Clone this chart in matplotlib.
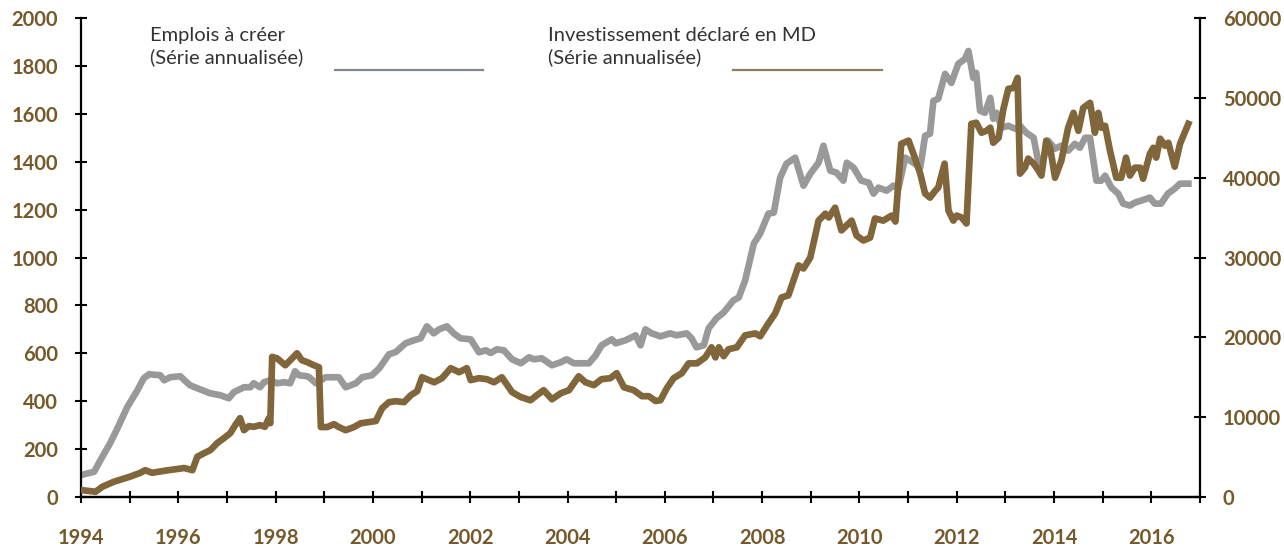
import matplotlib
matplotlib.use("Agg")
import matplotlib.pyplot as plt
from matplotlib.lines import Line2D

# ---- data ----
# Emplois à créer (série annualisée) - right axis
emplois_t = [1994.00, 1994.27, 1994.40, 1994.60, 1994.75, 1994.95, 1995.16, 1995.29, 1995.40, 1995.63,
             1995.71, 1995.83, 1996.04, 1996.24, 1996.39, 1996.65, 1996.86, 1997.04, 1997.14, 1997.35,
             1997.48, 1997.55, 1997.68, 1997.76, 1997.89, 1998.03, 1998.17, 1998.30, 1998.40, 1998.48,
             1998.65, 1998.69, 1998.83, 1999.03, 1999.30, 1999.44, 1999.65, 1999.78, 1999.98, 2000.13,
             2000.33, 2000.47, 2000.67, 2000.84, 2000.98, 2001.11, 2001.25, 2001.36, 2001.52, 2001.66,
             2001.80, 2002.01, 2002.18, 2002.32, 2002.42, 2002.55, 2002.69, 2002.86, 2003.04, 2003.21,
             2003.31, 2003.47, 2003.68, 2003.86, 2003.98, 2004.13, 2004.27, 2004.44, 2004.58, 2004.70,
             2004.91, 2004.99, 2005.19, 2005.40, 2005.50, 2005.60, 2005.73, 2005.91, 2006.11, 2006.24,
             2006.45, 2006.55, 2006.65, 2006.80, 2006.90, 2007.06, 2007.21, 2007.41, 2007.52, 2007.65,
             2007.83, 2007.96, 2008.13, 2008.24, 2008.37, 2008.50, 2008.68, 2008.85, 2008.99, 2009.16,
             2009.26, 2009.40, 2009.53, 2009.67, 2009.74, 2009.88, 2010.04, 2010.19, 2010.29, 2010.39,
             2010.56, 2010.70, 2010.80, 2010.94, 2011.11, 2011.25, 2011.35, 2011.45, 2011.52, 2011.62,
             2011.76, 2011.89, 2012.03, 2012.17, 2012.24, 2012.34, 2012.40, 2012.48, 2012.58, 2012.69,
             2012.75, 2012.82, 2012.92, 2013.06, 2013.20, 2013.30, 2013.43, 2013.58, 2013.68, 2013.74,
             2013.88, 2014.02, 2014.15, 2014.29, 2014.43, 2014.53, 2014.64, 2014.74, 2014.87, 2014.97,
             2015.05, 2015.18, 2015.32, 2015.42, 2015.56, 2015.66, 2015.79, 2015.97, 2016.07, 2016.20,
             2016.34, 2016.48, 2016.59, 2016.76]
emplois_v = [2750, 3160, 4625, 6750, 8625, 11250, 13375, 14875, 15375, 15250,
             14625, 15000, 15125, 14000, 13625, 13000, 12750, 12375, 13125, 13750,
             13750, 14250, 13750, 14375, 14625, 14250, 14375, 14250, 15750, 15250,
             15125, 15000, 14250, 15000, 15000, 13750, 14250, 15000, 15250, 16125,
             17875, 18160, 19250, 19625, 19875, 21375, 20500, 21000, 21375, 20500,
             19875, 19750, 18125, 18375, 18040, 18500, 18375, 17250, 16750, 17500,
             17250, 17375, 16500, 16875, 17250, 16750, 16750, 16750, 17750, 19000,
             19750, 19250, 19625, 20250, 19000, 21000, 20500, 20125, 20500, 20250,
             20500, 19875, 18750, 19000, 21125, 22375, 23125, 24625, 25000, 27125,
             31750, 33000, 35500, 35625, 40000, 41750, 42500, 39000, 40500, 41875,
             44000, 40875, 40625, 39625, 41875, 41250, 39625, 39375, 38000, 38750,
             38375, 39000, 38625, 42500, 41875, 41250, 45250, 45500, 49625, 49875,
             53000, 51875, 54250, 54875, 55875, 52500, 53125, 48375, 48125, 50000,
             47375, 48125, 46250, 46500, 46125, 46500, 45625, 45000, 41875, 41500,
             44625, 43625, 44000, 43375, 44250, 43750, 45000, 45000, 39625, 39625,
             40250, 38750, 38000, 36750, 36500, 36875, 37125, 37500, 36750, 36750,
             38000, 38625, 39250, 39250]

# Investissement déclaré en MD (série annualisée) - left axis
invest_t = [1994.00, 1994.30, 1994.44, 1994.68, 1995.01, 1995.22, 1995.32, 1995.46, 1995.73, 1995.98,
            1996.12, 1996.29, 1996.39, 1996.53, 1996.66, 1996.80, 1996.94, 1997.07, 1997.17, 1997.27,
            1997.35, 1997.45, 1997.55, 1997.68, 1997.78, 1997.86, 1997.89, 1997.93, 1998.03, 1998.20,
            1998.30, 1998.44, 1998.54, 1998.65, 1998.79, 1998.89, 1998.93, 1999.06, 1999.20, 1999.30,
            1999.44, 1999.61, 1999.75, 1999.92, 2000.06, 2000.19, 2000.33, 2000.47, 2000.64, 2000.78,
            2000.91, 2001.01, 2001.15, 2001.26, 2001.42, 2001.60, 2001.77, 2001.93, 2002.01, 2002.18,
            2002.34, 2002.49, 2002.65, 2002.86, 2003.04, 2003.24, 2003.37, 2003.51, 2003.68, 2003.86,
            2004.03, 2004.23, 2004.37, 2004.54, 2004.70, 2004.88, 2005.01, 2005.16, 2005.36, 2005.53,
            2005.67, 2005.81, 2005.91, 2006.04, 2006.18, 2006.35, 2006.49, 2006.66, 2006.83, 2006.96,
            2007.04, 2007.11, 2007.21, 2007.31, 2007.48, 2007.65, 2007.86, 2007.96, 2008.13, 2008.27,
            2008.40, 2008.54, 2008.75, 2008.85, 2008.99, 2009.16, 2009.30, 2009.37, 2009.50, 2009.63,
            2009.84, 2009.94, 2010.08, 2010.22, 2010.32, 2010.49, 2010.66, 2010.74, 2010.86, 2011.01,
            2011.11, 2011.25, 2011.35, 2011.45, 2011.56, 2011.62, 2011.75, 2011.83, 2011.93, 2012.00,
            2012.10, 2012.20, 2012.30, 2012.40, 2012.51, 2012.61, 2012.69, 2012.75, 2012.86, 2012.96,
            2013.06, 2013.17, 2013.25, 2013.30, 2013.40, 2013.47, 2013.58, 2013.68, 2013.74, 2013.84,
            2013.92, 2014.02, 2014.15, 2014.29, 2014.40, 2014.50, 2014.60, 2014.74, 2014.84, 2014.91,
            2014.97, 2015.05, 2015.15, 2015.28, 2015.38, 2015.48, 2015.56, 2015.66, 2015.77, 2015.83,
            2015.97, 2016.04, 2016.10, 2016.18, 2016.28, 2016.35, 2016.48, 2016.59, 2016.76]
invest_v = [29, 22, 43, 64, 85, 101, 112, 101, 110, 117,
            121, 112, 168, 183, 196, 225, 246, 267, 300, 329,
            279, 296, 293, 300, 293, 329, 308, 585, 579, 550,
            571, 600, 571, 563, 550, 542, 292, 292, 304, 292,
            279, 292, 308, 313, 317, 371, 396, 400, 396, 425,
            442, 500, 488, 479, 496, 538, 521, 538, 488, 496,
            492, 479, 500, 438, 417, 404, 425, 446, 408, 433,
            446, 504, 479, 467, 492, 496, 517, 458, 446, 421,
            421, 401, 404, 454, 496, 517, 558, 558, 583, 625,
            583, 625, 588, 617, 625, 675, 683, 671, 725, 767,
            833, 842, 967, 954, 1000, 1154, 1183, 1167, 1208, 1113,
            1154, 1092, 1071, 1083, 1163, 1154, 1175, 1150, 1475, 1488,
            1433, 1350, 1267, 1250, 1279, 1292, 1392, 1196, 1154, 1175,
            1167, 1142, 1558, 1563, 1521, 1529, 1542, 1479, 1500, 1621,
            1704, 1708, 1750, 1350, 1375, 1413, 1392, 1363, 1342, 1488,
            1458, 1333, 1404, 1542, 1604, 1529, 1625, 1646, 1521, 1604,
            1542, 1550, 1446, 1333, 1333, 1417, 1342, 1375, 1375, 1329,
            1433, 1458, 1417, 1496, 1467, 1479, 1379, 1475, 1558]

year_ticks = list(range(1994, 2018))
year_labels = [str(y) if (y % 2 == 0 and y <= 2016) else "" for y in year_ticks]
left_ticks = [0, 200, 400, 600, 800, 1000, 1200, 1400, 1600, 1800, 2000]
right_ticks = [0, 10000, 20000, 30000, 40000, 50000, 60000]

label_emplois = "Emplois à créer\n(Série annualisée)"
label_invest = "Investissement déclaré en MD\n(Série annualisée)"

# ---- style ----
GRAY = "#999999"
BROWN = "#80663A"
TICKCOL = "#75592B"
FONT = ["Lato", "DejaVu Sans"]
plt.rcParams["font.family"] = FONT

fig = plt.figure(figsize=(12.84, 5.48), dpi=100)
ax = fig.add_axes([81 / 1284, 51 / 548, 1119 / 1284, 479 / 548])
ax2 = ax.twinx()

ax.plot(invest_t, invest_v, color=BROWN, lw=4.8, solid_joinstyle="round", zorder=3)
ax2.plot(emplois_t, emplois_v, color=GRAY, lw=4.8, solid_joinstyle="round", zorder=2)

ax.set_xlim(1994, 2017)
ax.set_ylim(0, 2000)
ax2.set_ylim(0, 60000)

ax.set_xticks(year_ticks)
ax.set_xticklabels(year_labels)
ax.set_yticks(left_ticks)
ax2.set_yticks(right_ticks)

for a in (ax, ax2):
    a.spines["top"].set_visible(False)
    for s in ("left", "right", "bottom"):
        a.spines[s].set_linewidth(1.6)
        a.spines[s].set_color("black")
    a.tick_params(axis="both", direction="inout", length=9, width=1.5, color="black",
                  labelcolor=TICKCOL, labelsize=14.5)
ax.spines["right"].set_visible(False)
ax2.spines["left"].set_visible(False)
ax.tick_params(axis="x", pad=18)
ax.tick_params(axis="y", pad=12)
ax2.tick_params(axis="y", pad=12)
for lab in ax.get_xticklabels() + ax.get_yticklabels() + ax2.get_yticklabels():
    lab.set_fontweight("bold")

ax.set_zorder(ax2.get_zorder() + 1)
ax.patch.set_visible(False)

# legend-like annotations
ax.text(0.0617, 0.981, label_emplois, transform=ax.transAxes, ha="left", va="top",
        fontsize=14.5, color="#333333", linespacing=1.25)
ax.text(0.4173, 0.981, label_invest, transform=ax.transAxes, ha="left", va="top",
        fontsize=14.5, color="#333333", linespacing=1.25)
fig.add_artist(Line2D([335 / 1284, 483 / 1284], [(548 - 70) / 548] * 2, color="#7E8A8E", lw=1.6))
fig.add_artist(Line2D([733 / 1284, 882 / 1284], [(548 - 70) / 548] * 2, color="#8C7E62", lw=1.6))

fig.savefig("out.png", dpi=100)
